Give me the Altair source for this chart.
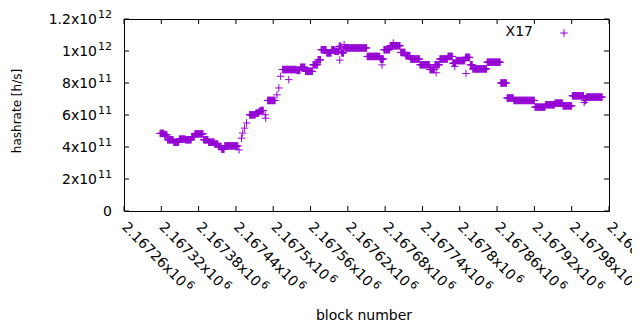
import altair as alt
import pandas as pd

series_name = "X17"
x_title = "block number"
y_title = "hashrate [h/s]"
series_color = "#9400d3"

# Hashrate readings, grouped into runs of equal value:
# first block, last block, hashrate in units of 1e11 h/s
seg_first = [2167318, 2167325, 2167330, 2167340, 2167349, 2167359, 2167369, 2167374, 2167388, 2167396,
             2167406, 2167412, 2167417, 2167422, 2167445, 2167449, 2167451, 2167454, 2167457, 2167462,
             2167472, 2167477, 2167480, 2167487, 2167488, 2167491, 2167506, 2167509, 2167512, 2167515,
             2167525, 2167538, 2167544, 2167552, 2167564, 2167572, 2167577, 2167586, 2167594, 2167599,
             2167606, 2167607, 2167610, 2167614, 2167615, 2167651, 2167672, 2167675, 2167678, 2167688,
             2167693, 2167705, 2167713, 2167721, 2167736, 2167752, 2167760, 2167762, 2167768, 2167781,
             2167789, 2167792, 2167794, 2167809, 2167810, 2167817, 2167821, 2167844, 2167866, 2167876,
             2167887, 2167921, 2167938, 2167953, 2167966, 2167981, 2168000, 2168001, 2168004]
seg_last = [2167324, 2167329, 2167339, 2167348, 2167358, 2167368, 2167373, 2167387, 2167395, 2167405,
            2167411, 2167416, 2167421, 2167443, 2167445, 2167449, 2167451, 2167454, 2167457, 2167471,
            2167476, 2167479, 2167484, 2167487, 2167488, 2167503, 2167506, 2167509, 2167512, 2167537,
            2167525, 2167543, 2167551, 2167563, 2167571, 2167576, 2167585, 2167593, 2167598, 2167605,
            2167609, 2167607, 2167613, 2167614, 2167650, 2167671, 2167677, 2167675, 2167687, 2167704,
            2167693, 2167712, 2167720, 2167735, 2167751, 2167759, 2167767, 2167762, 2167780, 2167788,
            2167793, 2167792, 2167808, 2167816, 2167810, 2167820, 2167843, 2167865, 2167875, 2167886,
            2167920, 2167937, 2167952, 2167965, 2167980, 2167999, 2168000, 2168003, 2168029]
seg_rate = [4.85, 4.76, 4.45, 4.30, 4.49, 4.45, 4.65, 4.82, 4.45, 4.30,
            4.18, 4.03, 3.86, 4.07, 3.82, 4.55, 4.87, 5.18, 5.50, 6.01,
            6.11, 6.22, 6.28, 6.01, 5.80, 6.91, 7.26, 7.69, 8.42, 8.84,
            8.21, 8.79, 8.98, 8.73, 9.14, 9.45, 10.08, 9.88, 10.08, 9.98,
            10.29, 9.43, 9.88, 10.40, 10.19, 9.66, 9.50, 9.13, 10.08, 10.33,
            10.50, 9.91, 9.71, 9.50, 9.14, 8.84, 9.14, 8.64, 9.50, 9.66,
            9.24, 9.04, 9.40, 9.60, 8.59, 9.14, 8.88, 9.30, 8.00, 7.06,
            6.91, 6.49, 6.64, 6.74, 6.57, 7.20, 6.78, 6.91, 7.12]

x_ticks = [2167260, 2167320, 2167380, 2167440, 2167500, 2167560, 2167620,
           2167680, 2167740, 2167800, 2167860, 2167920, 2167980, 2168040]
x_tick_text = ["2.16726x10", "2.16732x10", "2.16738x10", "2.16744x10", "2.1675x10", "2.16756x10",
               "2.16762x10", "2.16768x10", "2.16774x10", "2.1678x10", "2.16786x10", "2.16792x10",
               "2.16798x10", "2.16804x10"]
x_tick_exp = ["6"] * len(x_ticks)
y_ticks = [0, 2e11, 4e11, 6e11, 8e11, 1e12, 1.2e12]
y_tick_text = ["0", "2x10", "4x10", "6x10", "8x10", "1x10", "1.2x10"]
y_tick_exp = ["", "11", "11", "11", "11", "12", "12"]

FONT = "DejaVu Sans"
W, H = 485, 192
PLUS = "M-1,0L1,0M0,-1L0,1"

rows = []
for first, last, rate in zip(seg_first, seg_last, seg_rate):
    for b in range(first, last + 1):
        rows.append({"block": b, "hashrate": rate * 1e11})
df = pd.DataFrame(rows)

xt = pd.DataFrame({"block": x_ticks, "text": x_tick_text, "exp": x_tick_exp})
yt = pd.DataFrame({"hashrate": y_ticks, "text": y_tick_text, "exp": y_tick_exp})
leg = pd.DataFrame({"name": [series_name]})
tx = pd.DataFrame({"t": [x_title]})
ty = pd.DataFrame({"t": [y_title]})

xscale = alt.Scale(domain=[x_ticks[0], x_ticks[-1]], nice=False, zero=False)
yscale = alt.Scale(domain=[y_ticks[0], y_ticks[-1]], nice=False, zero=False)


def X():
    return alt.X("block:Q", scale=xscale, axis=None)


def Y():
    return alt.Y("hashrate:Q", scale=yscale, axis=None)


points = alt.Chart(df).mark_point(
    shape=PLUS, filled=False, size=56, strokeWidth=1, color=series_color, opacity=1
).encode(x=X(), y=Y())

tick_bottom = alt.Chart(xt).mark_rule(color="black", strokeWidth=1).encode(
    x=X(), y=alt.value(H), y2=alt.value(H - 5))
tick_top = alt.Chart(xt).mark_rule(color="black", strokeWidth=1).encode(
    x=X(), y=alt.value(0), y2=alt.value(5))
tick_left = alt.Chart(yt).mark_rule(color="black", strokeWidth=1).encode(
    y=Y(), x=alt.value(0), x2=alt.value(5))
tick_right = alt.Chart(yt).mark_rule(color="black", strokeWidth=1).encode(
    y=Y(), x=alt.value(W), x2=alt.value(W - 5))

xlab = alt.Chart(xt).mark_text(
    angle=45, align="left", baseline="middle", font=FONT, fontSize=14, color="black"
).encode(x=X(), y=alt.value(H + 14), text="text:N")
xexp10 = alt.Chart(xt).transform_filter("length(datum.text) == 10").mark_text(
    angle=45, align="left", baseline="middle", font=FONT, fontSize=11, color="black", dx=86, dy=-4
).encode(x=X(), y=alt.value(H + 14), text="exp:N")
xexp9 = alt.Chart(xt).transform_filter("length(datum.text) == 9").mark_text(
    angle=45, align="left", baseline="middle", font=FONT, fontSize=11, color="black", dx=77, dy=-4
).encode(x=X(), y=alt.value(H + 14), text="exp:N")

ylab = alt.Chart(yt).transform_filter("datum.exp != ''").mark_text(
    align="right", baseline="alphabetic", font=FONT, fontSize=14, color="black", dy=4.5
).encode(x=alt.value(-27), y=Y(), text="text:N")
ylab0 = alt.Chart(yt).transform_filter("datum.exp == ''").mark_text(
    align="right", baseline="alphabetic", font=FONT, fontSize=14, color="black", dy=5
).encode(x=alt.value(-12), y=Y(), text="text:N")
yexp = alt.Chart(yt).transform_filter("datum.exp != ''").mark_text(
    align="left", baseline="alphabetic", font=FONT, fontSize=11, color="black", dy=-1
).encode(x=alt.value(-26), y=Y(), text="exp:N")

xtitle = alt.Chart(tx).mark_text(
    align="center", baseline="alphabetic", font=FONT, fontSize=14, color="black"
).encode(x=alt.value(240), y=alt.value(301), text="t:N")
ytitle = alt.Chart(ty).mark_text(
    angle=270, align="center", baseline="middle", font=FONT, fontSize=12, color="black"
).encode(x=alt.value(-107), y=alt.value(92), text="t:N")

leg_text = alt.Chart(leg).mark_text(
    align="right", baseline="middle", font=FONT, fontSize=14, color="black"
).encode(x=alt.value(409), y=alt.value(13), text="name:N")
leg_pt = alt.Chart(leg).mark_point(
    shape=PLUS, filled=False, size=56, strokeWidth=1, color=series_color, opacity=1
).encode(x=alt.value(440), y=alt.value(14))

chart = alt.layer(
    points, tick_bottom, tick_top, tick_left, tick_right,
    xlab, xexp10, xexp9, ylab, ylab0, yexp, xtitle, ytitle, leg_text, leg_pt
).properties(
    width=W, height=H, autosize="none",
    padding={"left": 116, "top": 11, "right": 23, "bottom": 111},
    background="white",
).configure_view(stroke="black", strokeWidth=1)

chart.save("out.html", embed_options={"renderer": "svg", "actions": False})
